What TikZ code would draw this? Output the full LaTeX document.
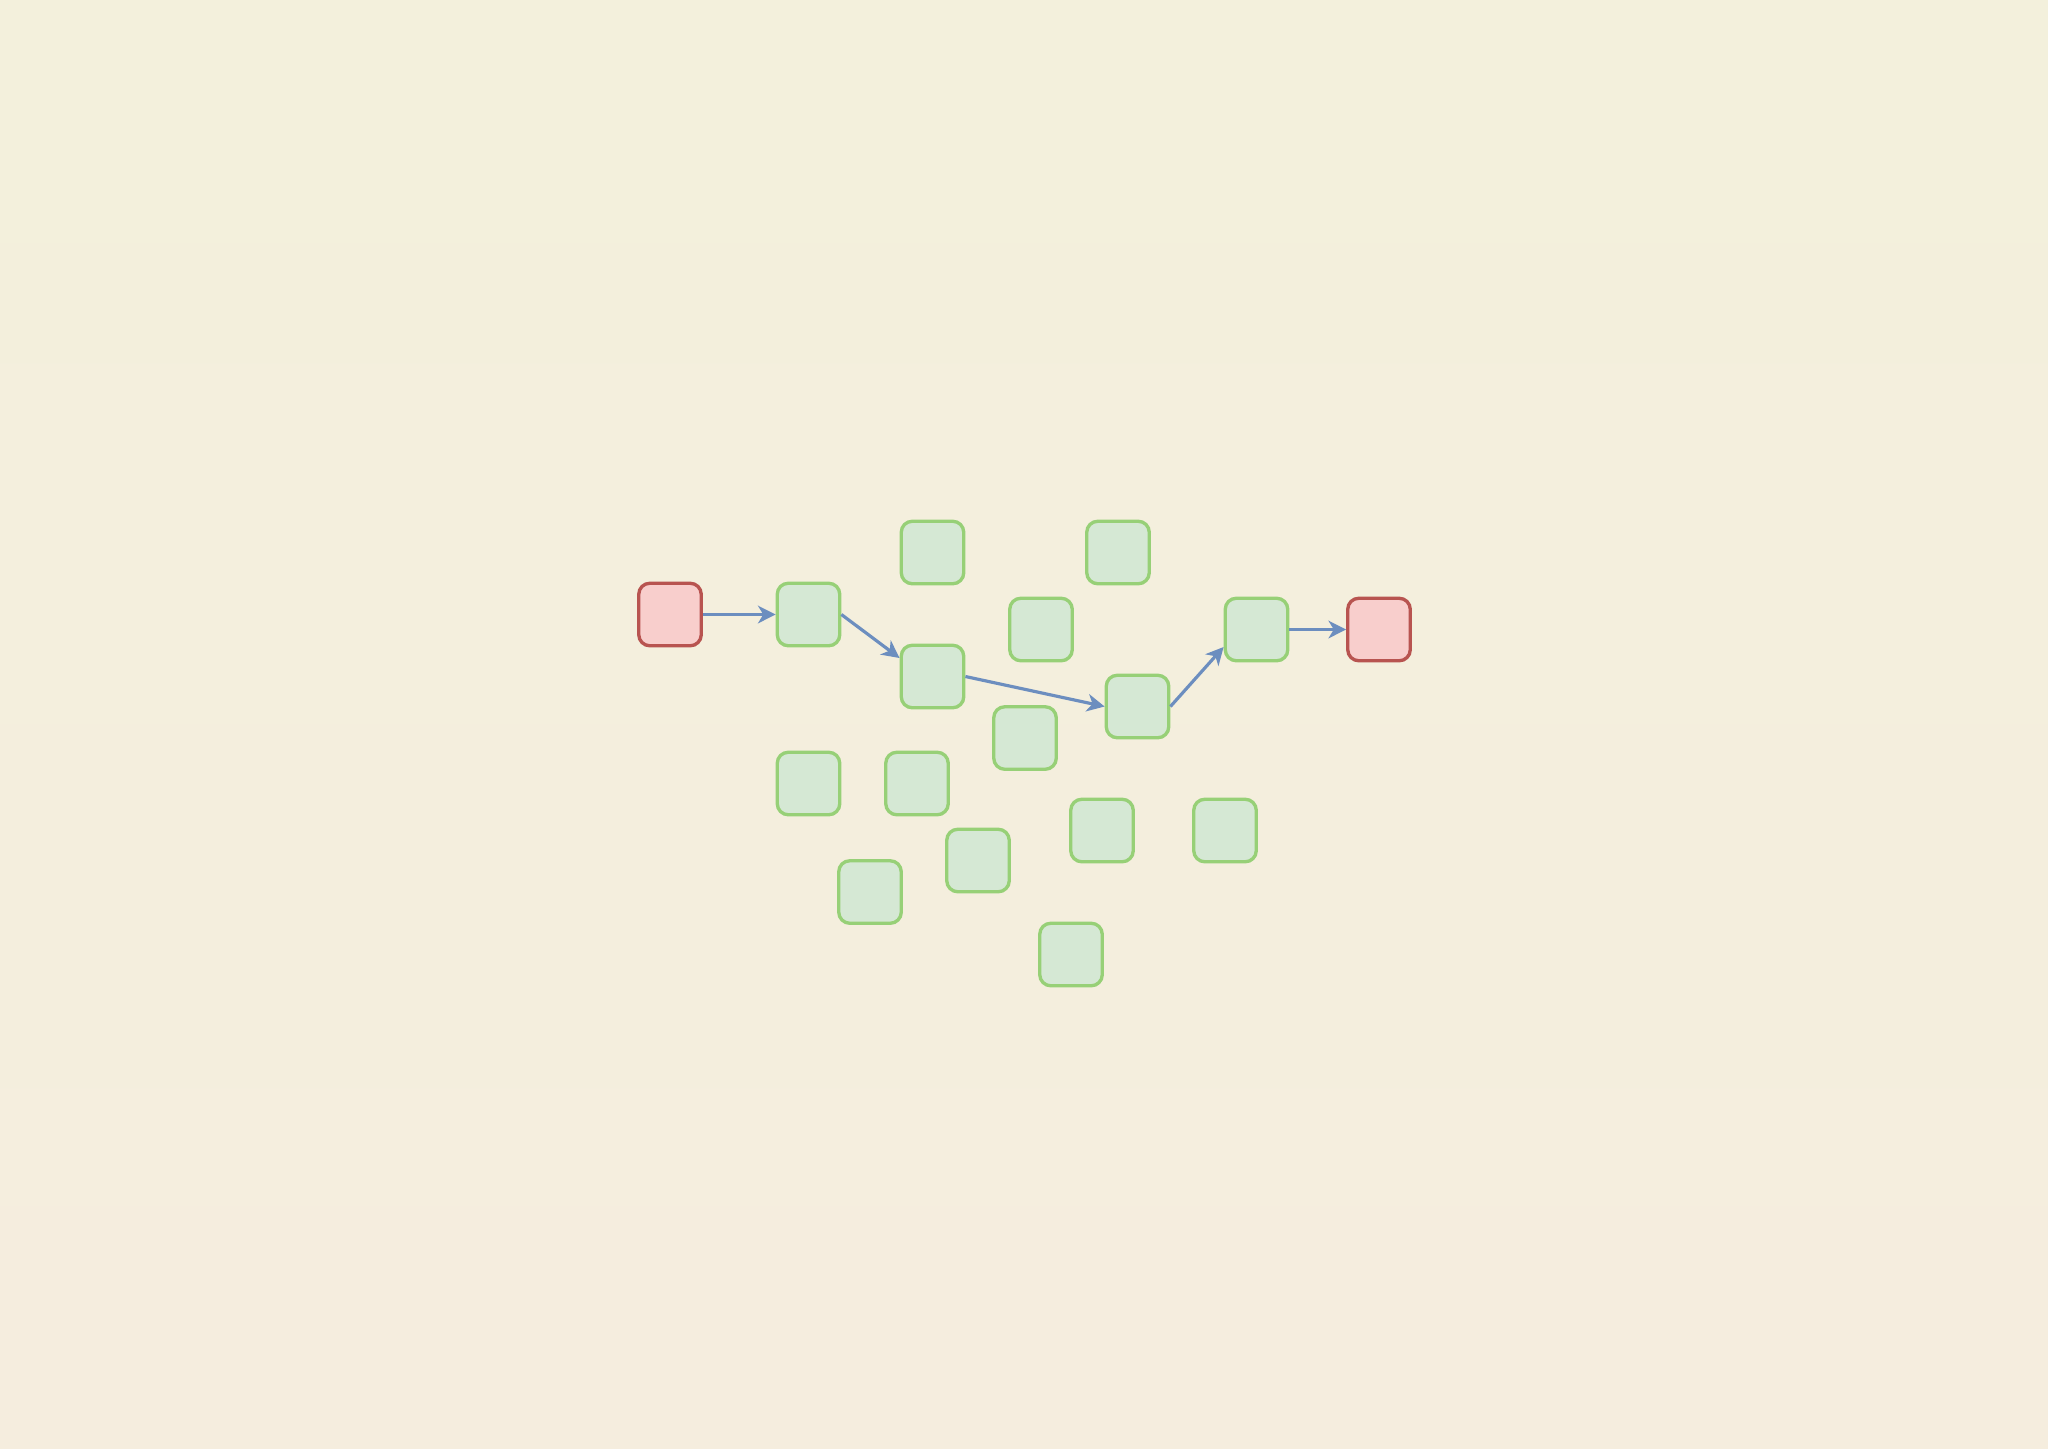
\documentclass[tikz,border=0pt]{standalone}
\usetikzlibrary{arrows.meta}
\usepackage{xcolor}
\definecolor{bgtop}{RGB}{243,240,220}
\definecolor{bgbot}{RGB}{245,237,222}
\definecolor{cellfill}{RGB}{213,232,212}
\definecolor{celldraw}{RGB}{151,208,119}
\definecolor{endfill}{RGB}{248,206,204}
\definecolor{enddraw}{RGB}{184,84,80}
\definecolor{hopblue}{RGB}{108,142,191}
\begin{document}
\begin{tikzpicture}[x=.02cm, y=-.02cm,
 cell/.style={draw=celldraw, fill=cellfill, line width=1.9pt, rounded corners=.22cm, minimum size=1.25cm, inner sep=0},
 endcell/.style={cell, draw=enddraw, fill=endfill},
 hop/.style={hopblue, line width=1.8pt, -{Stealth[length=10pt,width=10pt,inset=3pt]}}]
\useasboundingbox (0,0) rectangle (2048,1448);
\shade[top color=bgtop, bottom color=bgbot] (0,0) rectangle (2048,1448);
% start and goal
\node[endcell] (start) at (670,614.5) {};
\node[endcell] (goal) at (1379,629.5) {};
% grid cells
\foreach \n/\x/\y in {c1/808.5/614.5, c2/932.5/676.5, c3/932.5/552.5, c4/1118/552.5,
 c5/1041/629.5, c6/1137.5/706.5, c7/1256.5/629.5, c8/1025/738, c9/808.5/783.5,
 c10/917/783.5, c11/1102/830.5, c12/1225/830.5, c13/978/860.5, c14/870/892, c15/1071/954.5}
 \node[cell] (\n) at (\x,\y) {};
% route
\draw[hop] (start.east) -- (c1.west);
\draw[hop] (c1.east) -- ([yshift=.37cm]c2.west);
\draw[hop] (c2.east) -- (c6.west);
\draw[hop] (c6.east) -- ([yshift=-.35cm]c7.west);
\draw[hop] (c7.east) -- (goal.west);
\end{tikzpicture}
\end{document}
